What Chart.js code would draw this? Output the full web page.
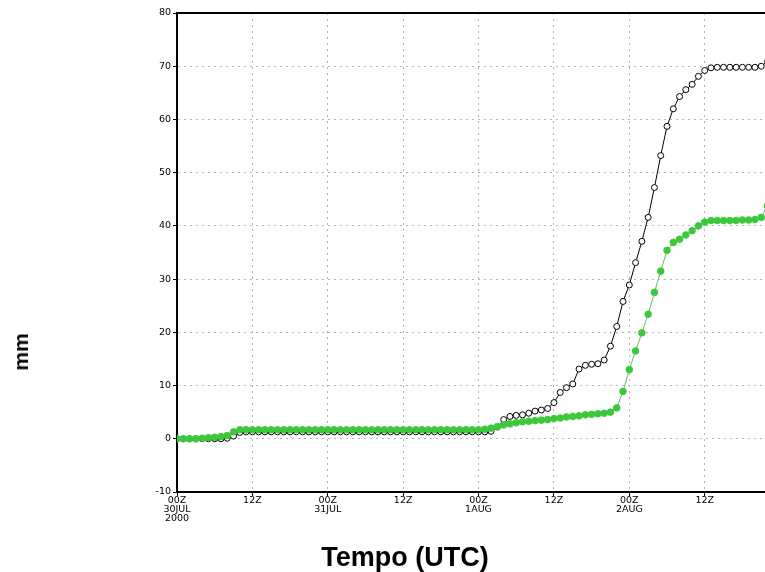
<!DOCTYPE html>
<html>
<head>
<meta charset="utf-8">
<script src="https://cdn.jsdelivr.net/npm/chart.js@4.4.1/dist/chart.umd.min.js"></script>
<style>
  html, body { margin: 0; padding: 0; background: #fff; }
  #wrap { position: relative; width: 765px; height: 572px; overflow: hidden; }
  #c { position: absolute; left: 0; top: 0; }
  .ttl { position: absolute; font-family: "Liberation Sans", Arial, sans-serif; font-weight: bold; color: #000; white-space: nowrap; }
  #ytitle { left: 21px; top: 352px; font-size: 21px; transform: translate(-50%, -50%) rotate(-90deg); }
  #xtitle { left: 405px; top: 557px; font-size: 27px; transform: translate(-50%, -50%); }
</style>
</head>
<body>
<div id="wrap">
  <canvas id="c" width="765" height="572"></canvas>
  <div class="ttl" id="ytitle">mm</div>
  <div class="ttl" id="xtitle">Tempo (UTC)</div>
</div>
<script>
// Hours since 00Z 30JUL2000 (hourly samples)
const hours = [0,1,2,3,4,5,6,7,8,9,10,11,12,13,14,15,16,17,18,19,20,21,22,23,24,25,26,27,28,29,30,31,32,33,34,35,36,37,38,39,40,41,42,43,44,45,46,47,48,49,50,51,52,53,54,55,56,57,58,59,60,61,62,63,64,65,66,67,68,69,70,71,72,73,74,75,76,77,78,79,80,81,82,83,84,85,86,87,88,89,90,91,92,93,94];

// Accumulated precipitation (mm) - black open markers
const blackSeries = [
  0, 0, 0, 0, 0, 0, 0, 0, 0.1, 0.5, 1.2,
  1.3, 1.3, 1.3, 1.3, 1.3, 1.3, 1.3, 1.3, 1.3, 1.3,
  1.3, 1.3, 1.3, 1.3, 1.3, 1.3, 1.3, 1.3, 1.3, 1.3,
  1.3, 1.3, 1.3, 1.3, 1.3, 1.3, 1.3, 1.3, 1.3, 1.3,
  1.3, 1.3, 1.3, 1.3, 1.3, 1.3, 1.3, 1.3, 1.3,
  1.4, 2.2, 3.6, 4.2, 4.4, 4.5, 4.8, 5.2, 5.4, 5.7,
  6.8, 8.7, 9.6, 10.3, 13.1, 13.8, 14.0, 14.1, 14.8, 17.4,
  21.1, 25.8, 28.9, 33.1, 37.1, 41.6, 47.2, 53.2, 58.7, 62.0,
  64.3, 65.6, 66.6, 68.1, 69.2, 69.7, 69.8, 69.8, 69.8, 69.8,
  69.8, 69.8, 69.8, 70.0, 70.9
];

// Accumulated precipitation (mm) - green filled markers
const greenSeries = [
  0, 0, 0, 0, 0.1, 0.2, 0.3, 0.4, 0.6, 1.3,
  1.7, 1.7, 1.7, 1.7, 1.7, 1.7, 1.7, 1.7, 1.7, 1.7,
  1.7, 1.7, 1.7, 1.7, 1.7, 1.7, 1.7, 1.7, 1.7, 1.7,
  1.7, 1.7, 1.7, 1.7, 1.7, 1.7, 1.7, 1.7, 1.7, 1.7,
  1.7, 1.7, 1.7, 1.7, 1.7, 1.7, 1.7, 1.7, 1.7,
  1.8, 2.0, 2.3, 2.6, 2.8, 3.0, 3.2, 3.3, 3.4, 3.5,
  3.6, 3.8, 3.9, 4.1, 4.2, 4.3, 4.5, 4.6, 4.7, 4.8,
  5.0, 5.8, 8.9, 13.0, 16.5, 19.9, 23.4, 27.5, 31.5, 35.4,
  36.9, 37.5, 38.3, 39.1, 40.0, 40.7, 41.0, 41.0, 41.0, 41.0,
  41.0, 41.1, 41.1, 41.2, 41.6, 43.8
];

const xTickHours = [0, 12, 24, 36, 48, 60, 72, 84];
const xTickLabels = [["00Z","30JUL","2000"],["12Z"],["00Z","31JUL"],["12Z"],["00Z","1AUG"],["12Z"],["00Z","2AUG"],["12Z"]];
const yTickValues = [-10, 0, 10, 20, 30, 40, 50, 60, 70, 80];

const tickFont = { family: '"DejaVu Sans", sans-serif', size: 9.5, lineHeight: 0.95 };
const gridStyle = { color: '#b4b4b4', lineWidth: 1, tickColor: '#000', tickLength: 4, tickWidth: 1, tickBorderDash: [] };

new Chart(document.getElementById('c'), {
  type: 'line',
  data: {
    labels: hours,
    datasets: [
      {
        label: 'green',
        data: greenSeries,
        borderColor: '#5fbf5f',
        borderWidth: 1,
        pointRadius: 3.3,
        pointBackgroundColor: '#3cc83c',
        pointBorderColor: '#3cc83c',
        pointBorderWidth: 1,
        tension: 0,
        order: 1
      },
      {
        label: 'black',
        data: blackSeries,
        borderColor: '#000',
        borderWidth: 1,
        pointRadius: 3,
        pointBackgroundColor: '#fff',
        pointBorderColor: '#000',
        pointBorderWidth: 1,
        tension: 0,
        order: 2
      }
    ]
  },
  options: {
    responsive: false,
    animation: false,
    layout: { autoPadding: false, padding: { top: 13, left: 0, right: 0, bottom: 0 } },
    plugins: { legend: { display: false }, tooltip: { enabled: false } },
    scales: {
      x: {
        type: 'linear',
        position: 'bottom',
        min: 0,
        max: 93.6,
        afterBuildTicks: s => { s.ticks = xTickHours.map(v => ({ value: v })); },
        afterFit: s => { s.height = 80; },
        grid: gridStyle,
        border: { color: '#000', width: 2, dash: [2, 4] },
        ticks: {
          autoSkip: false, maxRotation: 0, minRotation: 0, padding: 0,
          color: '#000', font: tickFont,
          callback: (v, i) => xTickLabels[i]
        }
      },
      xTop: {
        type: 'linear',
        axis: 'x',
        position: 'top',
        min: 0,
        max: 93.6,
        afterFit: s => { s.height = 0; },
        grid: { display: false, drawTicks: false },
        border: { color: '#000', width: 2 },
        ticks: { display: false }
      },
      y: {
        min: -10,
        max: 80,
        afterBuildTicks: s => { s.ticks = yTickValues.map(v => ({ value: v })); },
        afterFit: s => { s.width = 177; },
        grid: gridStyle,
        border: { color: '#000', width: 2, dash: [2, 4] },
        ticks: { padding: 2, color: '#000', font: tickFont }
      }
    }
  }
});
</script>
</body>
</html>
